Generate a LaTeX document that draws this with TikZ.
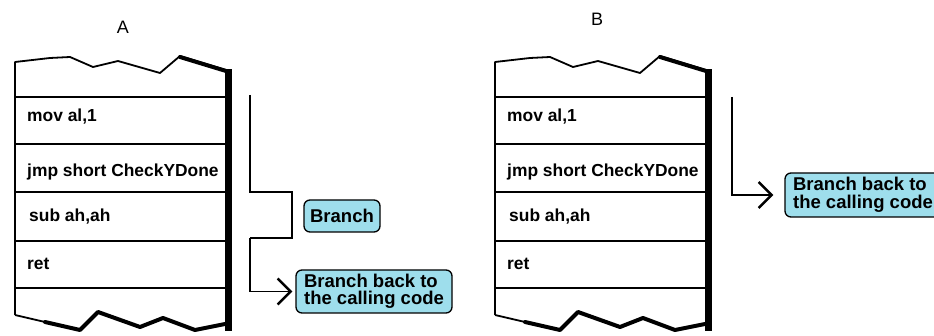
\documentclass[tikz,border=0pt]{standalone}
\usepackage{fontspec}
\setmainfont{Liberation Sans}
\usetikzlibrary{arrows.meta}
\definecolor{boxblue}{RGB}{158,222,236}
\begin{document}
\begin{tikzpicture}[x=1pt,y=-1pt,
  outline/.style={line width=1.8pt, line join=round},
  shadeline/.style={line width=4pt, line join=round, line cap=round},
  rowtext/.style={anchor=base west, inner sep=0pt, font=\fontsize{17.4}{18}\selectfont\bfseries},
  title/.style={font=\fontsize{18}{20}\selectfont, inner sep=0pt},
  callout/.style={draw, line width=1.3pt, fill=boxblue, rounded corners=6pt,
    font=\fontsize{18.5}{17.5}\selectfont\bfseries, align=left, inner sep=0pt},
  conn/.style={line width=1.8pt},
  arr/.style={-{Straight Barb[length=13pt,width=26pt,line width=2.4pt,line join=miter]}},
  pics/stack/.style={code={
    % outline of the torn sheet
    \draw[outline] (0,315) -- (0,62) -- (35,58) -- (55,57) -- (78,67) -- (103,61)
      -- (145,73) -- (165,56) -- (211,70) -- (211,323);
    \draw[shadeline] (165,57) -- (211,71);
    \fill (210,69) rectangle (217,331);
    \draw[outline] (0,315) -- (30,322);
    \draw[shadeline] (30,322) -- (65,330) -- (83,312) -- (125,327) -- (148,318)
      -- (180,330) -- (215,323);
    % row dividers
    \foreach \yy in {97,144,192,241,288} \draw[outline] (0,\yy) -- (211,\yy);
    \node[rowtext] (-mov) at (12,122) {mov al,1};
    \node[rowtext] (-jmp) at (12,177) {jmp short CheckYDone};
    \node[rowtext] (-sub) at (14,222) {sub ah,ah};
    \node[rowtext] (-ret) at (12,270) {ret};
  }}
]
\useasboundingbox (0,0) rectangle (934,336);

% ---------- A ----------
\node[title] (labA) at (123,27) {A};
\pic (A) at (15,0) {stack};
\node[callout, minimum width=76pt, minimum height=32pt] (branch) at (342,216) {Branch};
\node[callout, minimum width=156pt, minimum height=43pt] (backA) at (374,291.5)
  {Branch back to\\the calling code};
\coordinate (a0) at (250,95);
\coordinate (a1) at (292,192);
\coordinate (a2) at (250,238);
\draw[conn] (a0) |- (a1) |- (a2);
\draw[conn, arr, shorten >=3pt] (a2) |- (backA.west);

% ---------- B ----------
\node[title] (labB) at (597,19) {B};
\pic (B) at (495,0) {stack};
\node[callout, minimum width=156pt, minimum height=44pt] (backB) at (863,195)
  {Branch back to\\the calling code};
\coordinate (b0) at (732,97);
\draw[conn, arr, shorten >=11pt] (b0) |- (backB.west);
\end{tikzpicture}
\end{document}
